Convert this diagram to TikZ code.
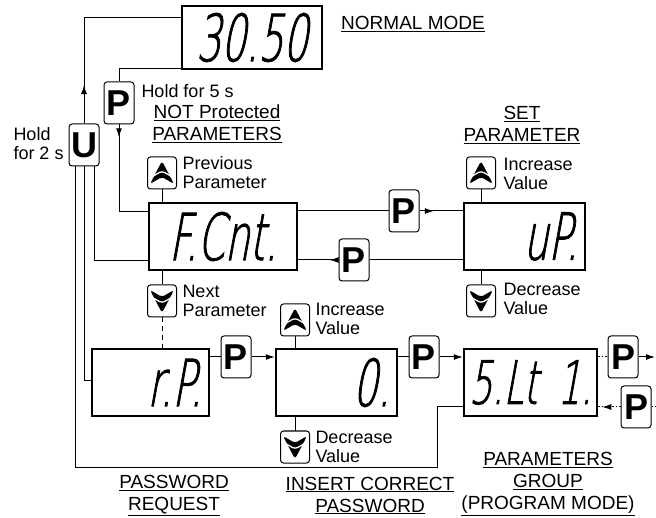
\documentclass[tikz,border=0pt]{standalone}
\usepackage{fontspec}
\setmainfont{Liberation Sans}
\newfontfamily\segfamily{DejaVu Sans ExtraLight}[FakeStretch=0.6,FakeSlant=0.18,FakeBold=1.2]
\usetikzlibrary{calc,arrows.meta,decorations.markings}

\newcommand\lblfont{\fontsize{18}{19}\selectfont}
\newcommand\headfont{\fontsize{19}{22}\selectfont}
\newcommand\keyfont{\fontsize{36}{36}\selectfont\bfseries}
\newcommand\dispfont{\segfamily\fontsize{65}{65}\selectfont}

\tikzset{
  disp/.style 2 args={draw, line width=2.5pt, minimum height=67, text width=#1,
    inner xsep=7, inner ysep=0, align=#2, font=\dispfont},
  key/.style={draw, line width=1pt, rounded corners=3, minimum width=30,
    minimum height=42, inner sep=0, font=\keyfont},
  akey/.style={draw, line width=1pt, rounded corners=3, minimum width=29,
    minimum height=32, inner sep=0},
  upkey/.style={akey, path picture={
    \fill (path picture bounding box.center) ++(0,-12) -- ++(12,23) -- ++(-12,-7) -- ++(-12,7) -- cycle;
    \draw[white, line width=1.3pt] (path picture bounding box.center) ++(-14,6) -- ++(14,-8) -- ++(14,8);}},
  dnkey/.style={akey, path picture={
    \fill (path picture bounding box.center) ++(0,12) -- ++(12,-23) -- ++(-12,7) -- ++(-12,-7) -- cycle;
    \draw[white, line width=1.3pt] (path picture bounding box.center) ++(-14,-6) -- ++(14,8) -- ++(14,-8);}},
  lbl/.style={font=\lblfont, align=left, inner sep=0},
  head/.style={font=\headfont, align=center, inner sep=0},
  arr/.style={-{Latex[length=9pt,width=6pt]}},
  midarrow/.style={postaction={decorate}, decoration={markings,
    mark=at position #1 with {\arrow{Latex[length=9pt,width=6pt]}}}},
  dotline/.style={dash pattern=on 1.5pt off 2pt},
  dashline/.style={dash pattern=on 5pt off 4pt}
}

\begin{document}
\begin{tikzpicture}[x=1pt, y=-1pt, line width=1pt]
  \useasboundingbox (0,0) rectangle (656,518);

  % displays
  \node[disp={126}{center}, minimum height=63] (nm) at (252,37.5) {30.50};
  \node[disp={134}{center}] (fcnt) at (223,236.5) {F.Cnt.};
  \node[disp={107}{right}] (up) at (524.5,236.5) {uP.};
  \node[disp={103}{right}] (rp) at (150.5,382.5) {r.P.};
  \node[disp={107}{right}] (zero) at (336.5,382.5) {0.};
  \node[disp={127}{center}, inner xsep=3, font=\segfamily\fontsize{60}{60}\selectfont] (slt) at (530.5,382.5) {5.Lt~1.};

  % keys
  \node[key] (u) at (84,145) {U};
  \node[key] (phold) at (119,103) {P};
  \node[key] (pset) at (404,211) {P};
  \node[key] (pback) at (354,260) {P};
  \node[key] (ppass) at (236,357) {P};
  \node[key] (pgrp) at (424,357) {P};
  \node[key] (pout) at (623,357) {P};
  \node[key] (pin) at (636,407) {P};

  \node[upkey] (prev) at (162,173) {};
  \node[dnkey] (next) at (162,301) {};
  \node[upkey] (inc1) at (481,173) {};
  \node[dnkey] (dec1) at (481,301) {};
  \node[upkey] (inc2) at (295,320) {};
  \node[dnkey] (dec2) at (295,447) {};

  % labels
  \node[head] (lnm) at (413,24) {\underline{NORMAL MODE}};
  \node[lbl, anchor=west] (lhold5) at (141,91) {Hold for 5 s};
  \node[head] (lnotp) at (217,124) {\underline{NOT Protected}\\\underline{PARAMETERS}};
  \node[lbl, anchor=west] (lhold2) at (13,144) {Hold\\for 2 s};
  \node[lbl, anchor=west] (lprev) at (182,172.5) {Previous\\Parameter};
  \node[lbl, anchor=west] (lnext) at (182,301) {Next\\Parameter};
  \node[head] (lset) at (522,125) {\underline{SET}\\\underline{PARAMETER}};
  \node[lbl, anchor=west] (linc1) at (503,173.5) {Increase\\Value};
  \node[lbl, anchor=west] (ldec1) at (503,298.5) {Decrease\\Value};
  \node[lbl, anchor=west] (linc2) at (315,319) {Increase\\Value};
  \node[lbl, anchor=west] (ldec2) at (315,447) {Decrease\\Value};
  \node[head] (lpw) at (174,495.5) {\underline{PASSWORD}\\\underline{REQUEST}};
  \node[head] (lins) at (370,495.5) {\underline{INSERT CORRECT}\\\underline{PASSWORD}};
  \node[head] (lgrp) at (548,484) {\underline{PARAMETERS}\\\underline{GROUP}\\\underline{(PROGRAM MODE)}};

  % normal mode <-> parameters
  \draw[midarrow=0.19] (u.north) |- ($(nm.north west)+(0,13)$);
  \draw ($(nm.south west)+(0,-2)$) -| (phold.north);
  \draw[midarrow=0.11] (phold.south) |- ($(fcnt.north west)+(0,10)$);
  \draw ($(fcnt.south west)+(0,-11)$) -| ([xshift=10pt]u.south);
  \draw ($(rp.north west)+(0,33)$) -| (u.south);
  \coordinate (c1) at (437,467);
  \draw ($(slt.south west)+(0,-11)$) -| (c1) -| ([xshift=-9pt]u.south);

  % up / down keys
  \draw (prev.south) -- (prev.south|-fcnt.north);
  \draw (next.north|-fcnt.south) -- (next.north);
  \draw[dashline] (next.south) -- (next.south|-rp.north);
  \draw (inc1.south) -- (inc1.south|-up.north);
  \draw (dec1.north|-up.south) -- (dec1.north);
  \draw (inc2.south) -- (inc2.south|-zero.north);
  \draw (dec2.north|-zero.south) -- (dec2.north);

  % P keys
  \draw (pset.west-|fcnt.east) -- (pset.west);
  \draw[midarrow=0.33] (pset.east) -- (pset.east-|up.west);
  \draw (pback.east-|up.west) -- (pback.east);
  \draw[midarrow=0.22] (pback.west) -- (pback.west-|fcnt.east);
  \draw (ppass.west-|rp.east) -- (ppass.west);
  \draw[arr] (ppass.east) -- (ppass.east-|zero.west);
  \draw (pgrp.west-|zero.east) -- (pgrp.west);
  \draw[arr] (pgrp.east) -- (pgrp.east-|slt.west);
  \coordinate (eout) at (655,357);
  \coordinate (ein) at (656,407);
  \draw[dotline] (pout.west-|slt.east) -- (pout.west);
  \draw[arr] (pout.east) -- (eout);
  \draw[dotline] (ein) -- (pin.east);
  \draw[dotline, midarrow=0.82] (pin.west) -- (pin.west-|slt.east);
\end{tikzpicture}
\end{document}
